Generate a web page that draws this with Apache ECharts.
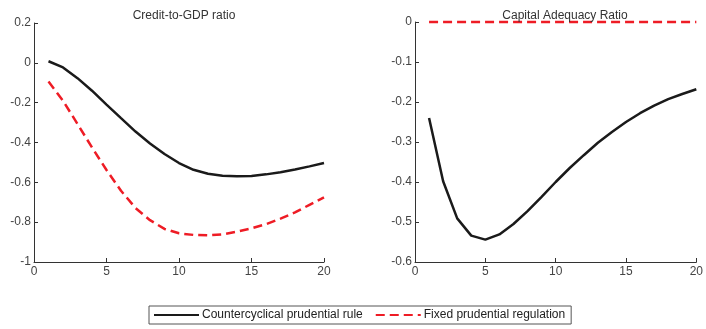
<!DOCTYPE html>
<html>
<head>
<meta charset="utf-8">
<script src="https://cdn.jsdelivr.net/npm/echarts@6/dist/echarts.min.js"></script>
<style>
html,body{margin:0;padding:0;background:#fff;}
#chart{width:706px;height:329px;}
</style>
</head>
<body>
<div id="chart"></div>
<script>
var periods=[1,2,3,4,5,6,7,8,9,10,11,12,13,14,15,16,17,18,19,20];
var creditRule=[0.008,-0.023,-0.077,-0.14,-0.21,-0.278,-0.345,-0.405,-0.458,-0.503,-0.537,-0.557,-0.567,-0.57,-0.568,-0.56,-0.549,-0.536,-0.52,-0.503];
var creditFixed=[-0.094,-0.19,-0.307,-0.425,-0.538,-0.642,-0.729,-0.79,-0.834,-0.856,-0.864,-0.866,-0.861,-0.848,-0.831,-0.81,-0.782,-0.751,-0.713,-0.675];
var carRule=[-0.24,-0.398,-0.491,-0.534,-0.544,-0.531,-0.505,-0.473,-0.437,-0.4,-0.365,-0.333,-0.302,-0.275,-0.25,-0.228,-0.209,-0.193,-0.18,-0.168];
var carFixed=[0,0,0,0,0,0,0,0,0,0,0,0,0,0,0,0,0,0,0,0];
var titles=['Credit-to-GDP ratio','Capital Adequacy Ratio'];
var names=['Countercyclical prudential rule','Fixed prudential regulation'];

function pairs(ys){
	return periods.map(function(x,i){return [x,ys[i]];});
}

var txt='#444';

function xAx(grid){
	return {
		type:'value',gridIndex:grid,min:0,max:20,interval:5,
		axisLine:{onZero:false,lineStyle:{color:'#333',width:1}},
		axisTick:{inside:true,length:4,lineStyle:{color:'#333'}},
		axisLabel:{color:txt,fontSize:12,fontFamily:'Liberation Sans',margin:4},
		splitLine:{show:false}
	};
}
function yAx(grid,min,max,step){
	return {
		type:'value',gridIndex:grid,min:min,max:max,interval:step,
		axisLine:{show:true,onZero:false,lineStyle:{color:'#333',width:1}},
		axisTick:{show:true,inside:true,length:4,lineStyle:{color:'#333'}},
		axisLabel:{color:txt,fontSize:12,fontFamily:'Liberation Sans',margin:3},
		splitLine:{show:false}
	};
}
function line(name,data,grid,color,dashed){
	return {
		name:name,type:'line',xAxisIndex:grid,yAxisIndex:grid,
		data:pairs(data),symbol:'none',smooth:false,
		lineStyle:{color:color,width:2.5,type:dashed?[9,5]:'solid'},
		itemStyle:{color:color},
		clip:false
	};
}

var chart=echarts.init(document.getElementById('chart'));
chart.setOption({
	animation:false,
	title:[
		{text:titles[0],left:179,top:5,textAlign:'center',textStyle:{fontSize:12,fontWeight:'normal',color:'#333',fontFamily:'Liberation Sans'}},
		{text:titles[1],left:560,top:5,textAlign:'center',textStyle:{fontSize:12,fontWeight:'normal',color:'#333',fontFamily:'Liberation Sans'}}
	],
	grid:[
		{left:34,right:382,top:23,bottom:67},
		{left:415,right:1,top:22,bottom:67}
	],
	xAxis:[xAx(0),xAx(1)],
	yAxis:[yAx(0,-1,0.2,0.2),yAx(1,-0.6,0,0.1)],
	legend:{
		data:names,left:149,top:306,
		borderColor:'#555',borderWidth:1,borderRadius:0,
		padding:[3,6,3,4],itemGap:12,itemWidth:45,itemHeight:12,
		itemStyle:{opacity:0},
		textStyle:{fontSize:12,color:'#222',fontFamily:'Liberation Sans',padding:[0,0,0,-2]}
	},
	series:[
		line(names[0],creditRule,0,'#1a1a1a',false),
		line(names[1],creditFixed,0,'#ee1c25',true),
		line(names[0],carRule,1,'#1a1a1a',false),
		line(names[1],carFixed,1,'#ee1c25',true)
	]
});
</script>
</body>
</html>
